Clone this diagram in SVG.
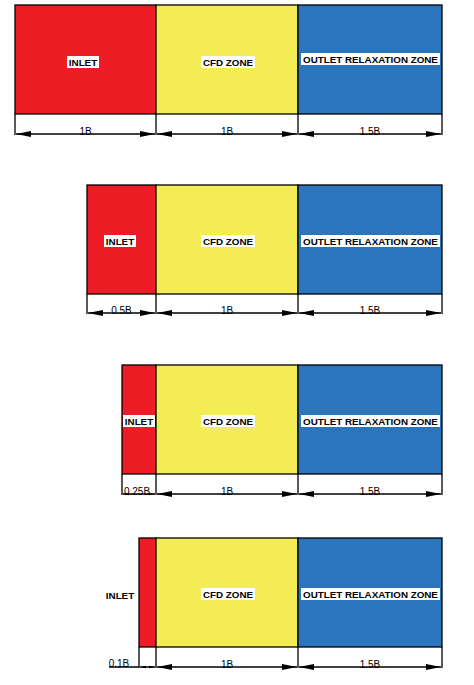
<svg xmlns="http://www.w3.org/2000/svg" width="474" height="685" viewBox="0 0 474 685">
<style>
.r{fill:#EE1C25;stroke:#000;stroke-width:1.3}
.y{fill:#F3EC55;stroke:#000;stroke-width:1.3}
.b{fill:#2A75BC;stroke:#000;stroke-width:1.3}
.v{stroke:#000;stroke-width:1.3}
.d{stroke:#000;stroke-width:1.5;marker-start:url(#a);marker-end:url(#a)}
.ds{stroke:#000;stroke-width:1.5;marker-start:url(#s);marker-end:url(#s)}
.lb{fill:#fff}
.t{font-family:"Liberation Sans",Arial,sans-serif;font-size:9.8px;font-weight:bold;fill:#000;text-anchor:middle}
.n{font-family:"Liberation Sans",Arial,sans-serif;font-size:10px;fill:#000;text-anchor:middle}
</style>
<defs>
<marker id="a" viewBox="0 0 10 4" refX="10" refY="2" markerWidth="10" markerHeight="4" markerUnits="strokeWidth" orient="auto-start-reverse"><path d="M0,0 L10,2 L0,4 Z" fill="#000"/></marker>
<marker id="s" viewBox="0 0 10 4" refX="10" refY="2" markerWidth="4" markerHeight="2.5" markerUnits="strokeWidth" orient="auto-start-reverse"><path d="M0,0 L10,2 L0,4 Z" fill="#000"/></marker>
</defs>

<g id="panel1">
<rect class="r" x="15" y="5" width="141" height="109"/>
<rect class="y" x="156" y="5" width="142" height="109"/>
<rect class="b" x="298" y="5" width="144" height="109"/>
<rect class="lb" x="67" y="56" width="32" height="12"/><text class="t" x="83" y="65.5">INLET</text>
<rect class="lb" x="201" y="56" width="54" height="12"/><text class="t" x="228" y="65.5">CFD ZONE</text>
<rect class="lb" x="301" y="53" width="139" height="12"/><text class="t" x="370.5" y="62.5">OUTLET RELAXATION ZONE</text>
</g>
<g id="panel2">
<rect class="r" x="87" y="185" width="69" height="109"/>
<rect class="y" x="156" y="185" width="142" height="109"/>
<rect class="b" x="298" y="185" width="144" height="109"/>
<rect class="lb" x="104" y="235" width="32" height="12"/><text class="t" x="120" y="244.5">INLET</text>
<rect class="lb" x="201" y="235" width="54" height="12"/><text class="t" x="228" y="244.5">CFD ZONE</text>
<rect class="lb" x="301" y="235" width="139" height="12"/><text class="t" x="370.5" y="244.5">OUTLET RELAXATION ZONE</text>
</g>
<g id="panel3">
<rect class="r" x="122" y="365" width="34" height="109"/>
<rect class="y" x="156" y="365" width="142" height="109"/>
<rect class="b" x="298" y="365" width="144" height="109"/>
<rect class="lb" x="123" y="415" width="32" height="12"/><text class="t" x="139" y="424.5">INLET</text>
<rect class="lb" x="201" y="415" width="54" height="12"/><text class="t" x="228" y="424.5">CFD ZONE</text>
<rect class="lb" x="301" y="415" width="139" height="12"/><text class="t" x="370.5" y="424.5">OUTLET RELAXATION ZONE</text>
</g>
<g id="panel4">
<rect class="r" x="139" y="538" width="17" height="109"/>
<rect class="y" x="156" y="538" width="142" height="109"/>
<rect class="b" x="298" y="538" width="144" height="109"/>
<text class="t" x="120" y="598.5">INLET</text>
<rect class="lb" x="201" y="588" width="54" height="12"/><text class="t" x="228" y="597.5">CFD ZONE</text>
<rect class="lb" x="301" y="588" width="139" height="12"/><text class="t" x="370.5" y="597.5">OUTLET RELAXATION ZONE</text>
</g>

<g id="connectors">
<path class="v" d="M15,114V135M156,114V135M298,114V135M442,114V135"/>
<line class="d" x1="16" y1="134" x2="155" y2="134"/>
<line class="d" x1="157" y1="134" x2="297" y2="134"/>
<line class="d" x1="299" y1="134" x2="441" y2="134"/>
<text class="n" x="85.5" y="135">1B</text><text class="n" x="227" y="135">1B</text><text class="n" x="370" y="135">1.5B</text>

<path class="v" d="M87,294V314M156,294V314M298,294V314M442,294V314"/>
<line class="d" x1="88" y1="313" x2="155" y2="313"/>
<line class="d" x1="157" y1="313" x2="297" y2="313"/>
<line class="d" x1="299" y1="313" x2="441" y2="313"/>
<text class="n" x="121.5" y="314">0.5B</text><text class="n" x="227" y="314">1B</text><text class="n" x="370" y="314">1.5B</text>

<path class="v" d="M122,474V495M156,474V495M298,474V495M442,474V495"/>
<line class="ds" x1="123" y1="494" x2="155" y2="494"/>
<line class="d" x1="157" y1="494" x2="297" y2="494"/>
<line class="d" x1="299" y1="494" x2="441" y2="494"/>
<text class="n" x="137" y="495">0.25B</text><text class="n" x="227" y="495">1B</text><text class="n" x="370" y="495">1.5B</text>

<path class="v" d="M139,647V668M156,647V668M298,647V668M442,647V668"/>
<line class="v" x1="109" y1="667" x2="139" y2="667" style="stroke-width:1.5"/>
<line class="ds" x1="140" y1="667" x2="155" y2="667"/>
<line class="d" x1="157" y1="667" x2="297" y2="667"/>
<line class="d" x1="299" y1="667" x2="441" y2="667"/>
<text class="n" x="119" y="667">0.1B</text><text class="n" x="227" y="668">1B</text><text class="n" x="370" y="668">1.5B</text>
</g>
</svg>
